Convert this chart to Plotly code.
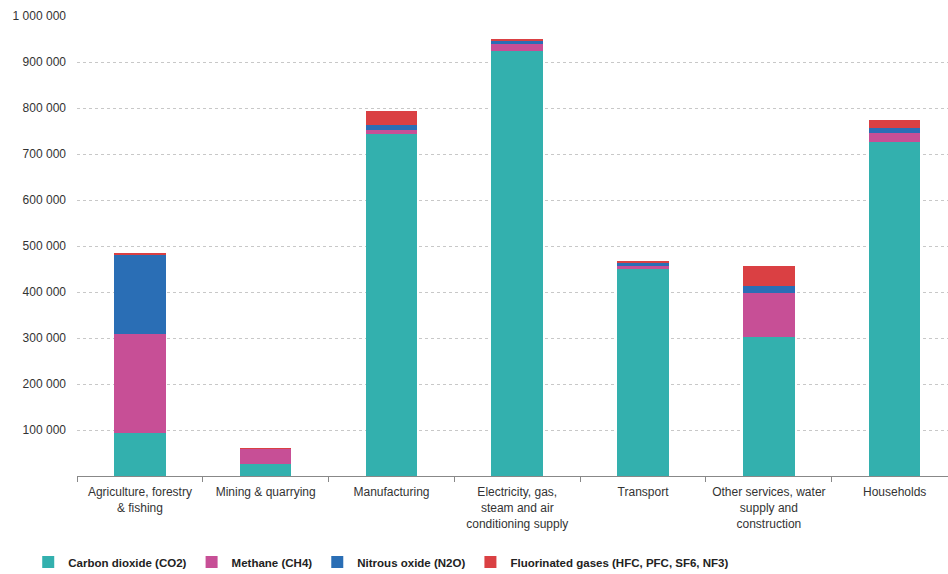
import plotly.graph_objects as go

categories = [
    "Agriculture, forestry<br>& fishing",
    "Mining & quarrying",
    "Manufacturing",
    "Electricity, gas,<br>steam and air<br>conditioning supply",
    "Transport",
    "Other services, water<br>supply and<br>construction",
    "Households",
]
co2 = [94000, 26000, 743000, 924000, 450000, 303000, 727000]
ch4 = [215000, 33000, 9000, 15000, 7000, 95000, 19000]
n2o = [172000, 200, 10000, 7000, 5000, 16000, 11000]
fgas = [2000, 900, 31000, 2000, 5000, 42000, 18000]

series_names = [
    "Carbon dioxide (CO2)",
    "Methane (CH4)",
    "Nitrous oxide (N2O)",
    "Fluorinated gases (HFC, PFC, SF6, NF3)",
]
series_values = [co2, ch4, n2o, fgas]
colors = ["#33B0AE", "#C74F96", "#2A6EB5", "#DA4043"]

y_tickvals = [100000 * i for i in range(1, 11)]
y_ticktext = ["100 000", "200 000", "300 000", "400 000", "500 000",
              "600 000", "700 000", "800 000", "900 000", "1 000 000"]

fig = go.Figure()
for name, vals, col in zip(series_names, series_values, colors):
    fig.add_trace(go.Bar(
        x=categories, y=vals, name=name,
        marker=dict(color=col, line=dict(width=0)),
    ))

fig.update_layout(
    barmode="stack",
    bargap=0.59,
    width=948, height=574,
    margin=dict(l=77, r=0, t=16, b=98, autoexpand=False),
    plot_bgcolor="white",
    paper_bgcolor="white",
    font=dict(family="Liberation Sans, Arial, sans-serif", size=12, color="#333333"),
    showlegend=True,
    legend=dict(
        orientation="h",
        x=-0.056, xanchor="left",
        xref="paper",
        y=-0.187, yanchor="middle",
        font=dict(size=11.5, color="#222222", weight="bold"),
        traceorder="normal",
        itemwidth=30,
        tracegroupgap=0,
    ),
    xaxis=dict(
        range=[-0.5, 6.424],
        automargin=False,
        showline=True, linecolor="#888888", linewidth=1,
        ticks="outside", tickson="boundaries", ticklen=5, tickcolor="#888888",
        showgrid=False,
        ticklabelstandoff=5,
        tickfont=dict(size=12, color="#333333"),
    ),
    yaxis=dict(
        range=[0, 1000000],
        automargin=False,
        tickvals=y_tickvals, ticktext=y_ticktext,
        showgrid=True, gridcolor="#C8C8C8", griddash="dot", gridwidth=1,
        showline=False, zeroline=False,
        ticks="", ticklabelstandoff=10,
        tickfont=dict(size=12, color="#333333"),
    ),
)

fig.write_html("out.html")
